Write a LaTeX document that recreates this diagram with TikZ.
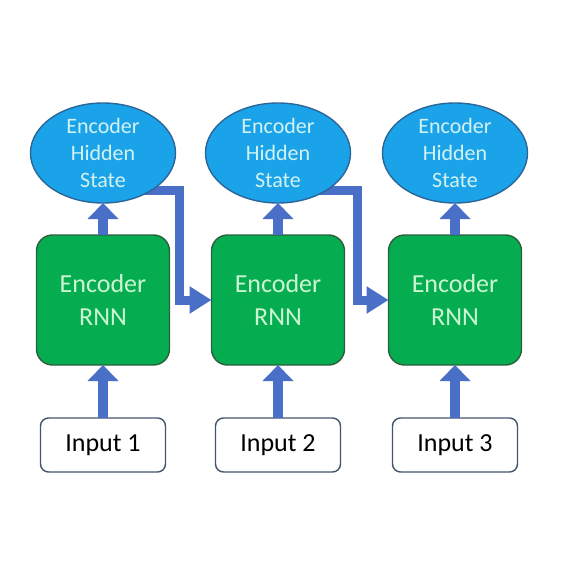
\documentclass[tikz,border=0pt]{standalone}
\usepackage{fontspec}
\setmainfont{Carlito}
\usetikzlibrary{arrows.meta,shapes.geometric}
\definecolor{ellfill}{HTML}{1BA3EA}
\definecolor{elldraw}{HTML}{2A6699}
\definecolor{elltext}{HTML}{D2F2F2}
\definecolor{rnnfill}{HTML}{05AD50}
\definecolor{rnndraw}{HTML}{2B5F3F}
\definecolor{rnntext}{HTML}{CBF5D3}
\definecolor{arrowblue}{HTML}{4A6FC6}
\definecolor{inputdraw}{HTML}{44546A}
\begin{document}
\begin{tikzpicture}[x=1pt,y=-1pt,
  hidden/.style={ellipse,draw=elldraw,fill=ellfill,line width=1.4pt,
    minimum width=145pt,minimum height=100pt,inner sep=0pt,outer sep=0pt,
    text=elltext,align=center,font=\fontsize{22}{27}\selectfont},
  rnnbox/.style={rectangle,rounded corners=16pt,draw=rnndraw,fill=rnnfill,line width=1.4pt,
    minimum width=133pt,minimum height=130pt,inner sep=0pt,outer sep=0pt,
    text=rnntext,align=center,font=\fontsize{26}{33}\selectfont},
  inbox/.style={rectangle,rounded corners=8pt,draw=inputdraw,fill=white,line width=1.4pt,
    minimum width=125pt,minimum height=54pt,inner sep=0pt,outer sep=0pt,
    text=black,font=\fontsize{26}{30}\selectfont},
  uparrow/.style={draw=arrowblue,line width=10pt,
    -{Triangle[width=30pt,length=16pt]}},
  conn/.style={draw=arrowblue,line width=9pt,line join=miter,
    -{Triangle[width=26pt,length=22pt]}}
]
\useasboundingbox[fill=white] (0,0) rectangle (561,575);

\node[inbox] (in1) at (103,445) {Input 1};
\node[inbox] (in2) at (278,445) {Input 2};
\node[inbox] (in3) at (455,445) {Input 3};

\node[rnnbox] (rnn1) at (103,300) {Encoder\\RNN};
\node[rnnbox] (rnn2) at (278,300) {Encoder\\RNN};
\node[rnnbox] (rnn3) at (455,300) {Encoder\\RNN};

\draw[conn] (103,190) -- (179,190) |- (rnn2.west);
\draw[conn] (278,190) -- (357,190) |- (rnn3.west);

\node[hidden] (ell1) at (103,153) {Encoder\\Hidden\\State};
\node[hidden] (ell2) at (278,153) {Encoder\\Hidden\\State};
\node[hidden] (ell3) at (455,153) {Encoder\\Hidden\\State};

\draw[uparrow] (in1.north) -- (rnn1.south);
\draw[uparrow] (in2.north) -- (rnn2.south);
\draw[uparrow] (in3.north) -- (rnn3.south);

\draw[uparrow] (rnn1.north) -- (ell1.south);
\draw[uparrow] (rnn2.north) -- (ell2.south);
\draw[uparrow] (rnn3.north) -- (ell3.south);
\end{tikzpicture}
\end{document}
